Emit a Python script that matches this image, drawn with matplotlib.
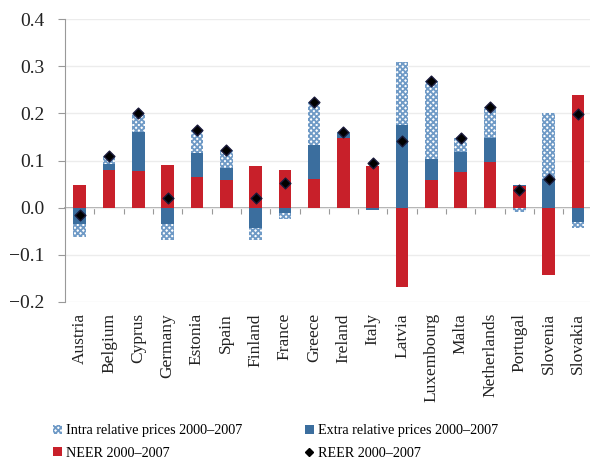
import matplotlib
matplotlib.use("Agg")
import matplotlib.pyplot as plt
import numpy as np
from matplotlib.patches import Patch
from matplotlib.lines import Line2D

countries = ["Austria", "Belgium", "Cyprus", "Germany", "Estonia", "Spain", "Finland",
             "France", "Greece", "Ireland", "Italy", "Latvia", "Luxembourg", "Malta",
             "Netherlands", "Portugal", "Slovenia", "Slovakia"]
neer = [0.049, 0.080, 0.077, 0.090, 0.065, 0.059, 0.088, 0.080, 0.061, 0.148, 0.088,
        -0.168, 0.059, 0.076, 0.097, 0.046, -0.142, 0.239]
extra = [-0.035, 0.013, 0.083, -0.035, 0.051, 0.026, -0.043, -0.011, 0.072, 0.010, -0.006,
         0.176, 0.045, 0.042, 0.051, 0.003, 0.061, -0.031]
intra = [-0.027, 0.017, 0.040, -0.033, 0.048, 0.038, -0.025, -0.014, 0.091, 0.002, 0.000,
         0.133, 0.164, 0.030, 0.065, -0.009, 0.139, -0.012]
reer = [-0.015, 0.109, 0.200, 0.021, 0.164, 0.123, 0.021, 0.053, 0.224, 0.160, 0.095,
        0.142, 0.268, 0.148, 0.213, 0.038, 0.061, 0.198]
yticks = [-0.2, -0.1, 0.0, 0.1, 0.2, 0.3, 0.4]

plt.rcParams['font.family'] = ['Liberation Serif', 'DejaVu Serif']
plt.rcParams['hatch.linewidth'] = 1.3

RED = '#C8202A'
BLUE = '#3B6E9E'
LBLUE = '#6F9AC6'

fig = plt.figure(figsize=(5.9, 4.59), dpi=100)
ax = fig.add_axes([65/590, (459-302)/459, 1 - 65/590, (302-19)/459])

n = len(countries)
x = np.arange(n)
w = 0.43
neer_a = np.array(neer); extra_a = np.array(extra); intra_a = np.array(intra)
pos_base = np.zeros(n); neg_base = np.zeros(n)

def stack(vals, **kw):
    bottoms = np.where(vals >= 0, pos_base, neg_base)
    ax.bar(x, vals, w, bottom=bottoms, zorder=2, **kw)
    pos_base[:] = pos_base + np.where(vals >= 0, vals, 0)
    neg_base[:] = neg_base + np.where(vals < 0, vals, 0)

stack(neer_a, color=RED, linewidth=0)
stack(extra_a, color=BLUE, linewidth=0)
stack(intra_a, facecolor='white', edgecolor=LBLUE, hatch='xxxxxx', linewidth=0)
ax.scatter(x, reer, marker='D', s=30, color='black', edgecolor='#1a1a3a', zorder=4)

ax.set_ylim(-0.2, 0.4)
ax.set_xlim(-0.5, n - 0.5 - 0.09)
ax.set_yticks(yticks)
ax.set_yticklabels([f"{v:.1f}".replace('-', '\u2212') for v in yticks], fontsize=14)
ax.yaxis.grid(True, color='#ececec', linewidth=1, zorder=0)
for s in ['top', 'right', 'bottom']:
    ax.spines[s].set_visible(False)
ax.spines['left'].set_color('#999999')
ax.tick_params(axis='y', colors='#999999', length=5, labelcolor='#222222', pad=10)

ax.set_xticks(x)
ax.set_xticklabels(countries, rotation=90, fontsize=12.5, color='#222222', va='top', ha='center')
ax.tick_params(axis='x', length=0, pad=8)

sec = ax.secondary_xaxis(1/3)
sec.set_xticks(np.arange(n - 1) + 0.5)
sec.set_xticklabels([])
sec.spines['bottom'].set_color('#999999')
sec.spines['bottom'].set_linewidth(1.2)
sec.tick_params(axis='x', direction='out', length=4, colors='#999999')

handles = [Patch(facecolor='white', edgecolor=LBLUE, hatch='xxxxxx', linewidth=0,
                 label='Intra relative prices 2000\u20132007'),
           Patch(facecolor=RED, label='NEER 2000\u20132007'),
           Patch(facecolor=BLUE, label='Extra relative prices 2000\u20132007'),
           Line2D([], [], marker='D', color='black', linestyle='none', markersize=4.5,
                  label='REER 2000\u20132007')]
fig.legend(handles=handles, ncol=2, loc='upper left', bbox_to_anchor=(53/590, 1 - 424/459),
           frameon=False, fontsize=10.2, handlelength=0.6, handleheight=0.6,
           handletextpad=0.35, columnspacing=4.4, labelspacing=0.68, borderaxespad=0,
           borderpad=0)

fig.savefig('out.png', dpi=100)
